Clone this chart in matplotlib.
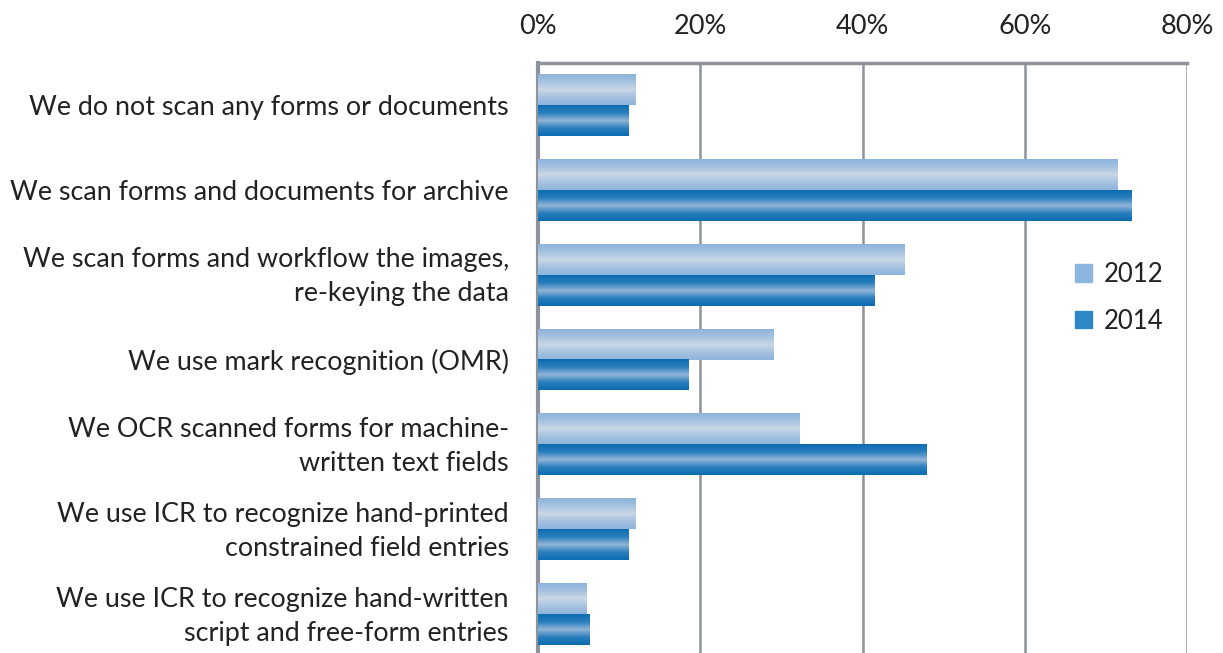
import numpy as np
import matplotlib.pyplot as plt
import matplotlib.transforms as mtransforms
from matplotlib.colors import LinearSegmentedColormap
from matplotlib.patches import Patch

categories = [
    "We do not scan any forms or documents",
    "We scan forms and documents for archive",
    "We scan forms and workflow the images,\nre-keying the data",
    "We use mark recognition (OMR)",
    "We OCR scanned forms for machine-\nwritten text fields",
    "We use ICR to recognize hand-printed\nconstrained field entries",
    "We use ICR to recognize hand-written\nscript and free-form entries",
]
vals_2012 = [12, 71.4, 45.2, 29, 32.2, 12, 6]
vals_2014 = [11.1, 73.1, 41.5, 18.5, 47.9, 11.1, 6.4]
xticks = [0, 20, 40, 60, 80]

plt.rcParams['font.family'] = ['Lato', 'DejaVu Sans']

fig = plt.figure(figsize=(12.23, 6.53), dpi=100)
ax = fig.add_axes([538 / 1223, -0.0054, (1187 - 538) / 1223, (656.5 - 62.5) / 653])

# shaded fills: edge colour -> lighter centre -> edge colour
cm12 = LinearSegmentedColormap.from_list('c12', ['#8fb4dc', '#a6c2e0', '#c9d7e6', '#a6c2e0', '#8fb4dc'])
cm14 = LinearSegmentedColormap.from_list('c14', ['#0b6cb0', '#2a7fbe', '#93b5d9', '#2a7fbe', '#0b6cb0'])
grad = np.linspace(0, 1, 64).reshape(-1, 1)

y = np.arange(len(categories))
h = 0.365
b12 = ax.barh(y - h / 2, vals_2012, height=h, color='none', zorder=3)
b14 = ax.barh(y + h / 2, vals_2014, height=h, color='none', zorder=3)
for bars, cmap in ((b12, cm12), (b14, cm14)):
    for p in bars:
        x0, y0 = p.get_x(), p.get_y()
        ax.imshow(grad, cmap=cmap, aspect='auto', zorder=3,
                  extent=[x0, x0 + p.get_width(), y0 + p.get_height(), y0])

ax.set_xlim(0, 80)
ax.set_ylim(len(categories) - 0.5, -0.5)
ax.set_xticks(xticks)
ax.set_xticklabels([f"{t}%" for t in xticks])
ax.xaxis.tick_top()
ax.tick_params(axis='x', length=0, pad=17, labelsize=19.5, labelcolor='#222222')
ax.set_yticks(y)
ax.set_yticklabels(categories, fontsize=19.4, color='#222222', linespacing=1.45)
ax.tick_params(axis='y', length=0, pad=21)

# nudge two-line labels up a little so they sit centred on their bars
shift = mtransforms.ScaledTranslation(0, 5 / 100, fig.dpi_scale_trans)
for lbl in ax.get_yticklabels():
    if '\n' in lbl.get_text():
        lbl.set_transform(lbl.get_transform() + shift)

ax.grid(axis='x', color='#8e939a', linewidth=1.8, zorder=0)
ax.set_axisbelow(True)

for side in ('right', 'bottom'):
    ax.spines[side].set_visible(False)
ax.spines['top'].set_color('#8e939a')
ax.spines['top'].set_linewidth(2.5)
ax.spines['left'].set_color('#8e939a')
ax.spines['left'].set_linewidth(3)

handles = [Patch(color='#8db6df', label='2012'), Patch(color='#2e88c6', label='2014')]
fig.legend(handles=handles, loc='center left', bbox_to_anchor=(1052 / 1223, 1 - 298 / 653),
           frameon=False, fontsize=18.5, handlelength=0.65, handleheight=0.65,
           handletextpad=0.45, labelspacing=0.85, labelcolor='#222222')

fig.savefig('out.png', dpi=100)
